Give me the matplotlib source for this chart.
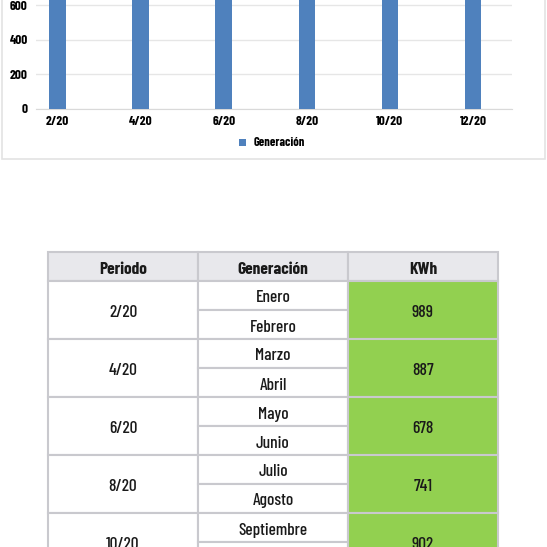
import matplotlib.pyplot as plt
from matplotlib.patches import Rectangle

periodos = ["2/20", "4/20", "6/20", "8/20", "10/20", "12/20"]
generacion = [989, 887, 678, 741, 902, 850]  # 12/20 not visible, estimated
meses = [["Enero", "Febrero"], ["Marzo", "Abril"], ["Mayo", "Junio"],
         ["Julio", "Agosto"], ["Septiembre", "Octubre"], ["Noviembre", "Diciembre"]]
kwh = [989, 887, 678, 741, 902, 850]
encabezados = ["Periodo", "Generación", "KWh"]
yticks = [0, 200, 400, 600]

plt.rcParams['font.family'] = ['Barlow Condensed', 'Roboto Condensed', 'PT Sans Narrow',
                               'Liberation Sans Narrow', 'DejaVu Sans']

W = H = 547
fig = plt.figure(figsize=(5.47, 5.47), dpi=100)
fig.patch.set_facecolor('white')

# background layer in pixel coordinates
bg = fig.add_axes([0, 0, 1, 1])
bg.set_xlim(0, W)
bg.set_ylim(H, 0)
bg.axis('off')
# chart frame
bg.add_patch(Rectangle((1.5, -5), 543.5, 164, fill=False, ec='#e3e3e3', lw=1.2))

# bar chart
x0, x1 = 36, 512
y0 = 108.7
ax = fig.add_axes([x0 / W, (H - y0) / H, (x1 - x0) / W, y0 / H])
ax.bar(range(len(periodos)), generacion, width=0.2, color='#4f81bd', zorder=3,
       label='Generación')
ax.set_xlim(-0.26, 5.47)
ax.set_ylim(0, 630)
ax.set_yticks(yticks)
ax.set_xticks(range(len(periodos)))
ax.set_xticklabels(periodos)
ax.grid(axis='y', color='#e6e6e6', lw=1, zorder=0)
for s in ['top', 'right', 'left']:
    ax.spines[s].set_visible(False)
ax.spines['bottom'].set_color('#d9d9d9')
ax.tick_params(length=0, labelsize=9.5, pad=6)
for t in ax.get_xticklabels() + ax.get_yticklabels():
    t.set_fontweight('bold')
ax.tick_params(axis='x', pad=5)
ax.patch.set_alpha(0)
fig.legend(loc='center', bbox_to_anchor=(272 / W, (H - 143) / H), frameon=False,
           handlelength=0.5, handleheight=0.5, handletextpad=0.6,
           prop={'size': 9, 'weight': 'bold'})

# table
tx = [48, 198, 348, 498]
top = 252
hh = 29
sub = 29
grid_c = '#c9c9ce'
fs = 12.5
dy = 2.5
for j, h in enumerate(encabezados):
    bg.add_patch(Rectangle((tx[j], top), tx[j + 1] - tx[j], hh, fc='#e8e8ec', ec=grid_c, lw=1.5))
    bg.text((tx[j] + tx[j + 1]) / 2, top + hh / 2 + dy, h, ha='center', va='center',
            fontsize=fs, fontweight='bold', color='#1a1a1a')
for i, p in enumerate(periodos):
    ry = top + hh + i * 2 * sub
    bg.add_patch(Rectangle((tx[0], ry), tx[1] - tx[0], 2 * sub, fc='white', ec=grid_c, lw=1.5))
    bg.text((tx[0] + tx[1]) / 2, ry + sub + dy, p, ha='center', va='center', fontsize=fs,
            fontweight='medium', color='#1a1a1a')
    for k in range(2):
        bg.add_patch(Rectangle((tx[1], ry + k * sub), tx[2] - tx[1], sub, fc='white', ec=grid_c, lw=1.5))
        bg.text((tx[1] + tx[2]) / 2, ry + k * sub + sub / 2 + dy, meses[i][k], ha='center', va='center',
                fontsize=fs, fontweight='medium', color='#1a1a1a')
    bg.add_patch(Rectangle((tx[2], ry), tx[3] - tx[2], 2 * sub, fc='#92d050', ec=grid_c, lw=1.5))
    bg.text((tx[2] + tx[3]) / 2, ry + sub + dy, str(kwh[i]), ha='center', va='center', fontsize=fs,
            fontweight='medium', color='#1a1a1a')

fig.savefig('out.png', dpi=100)
